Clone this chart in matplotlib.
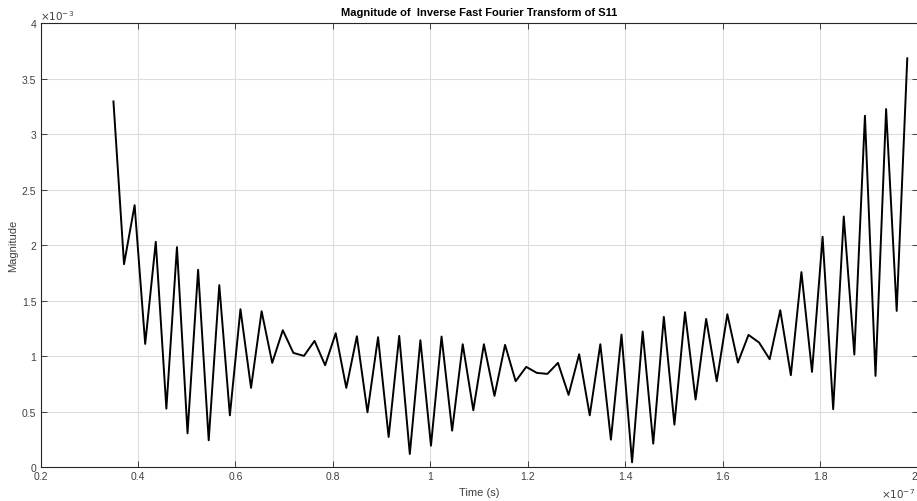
import matplotlib
matplotlib.use("Agg")
import matplotlib.pyplot as plt
import numpy as np

plt.rcParams['font.family'] = ['Liberation Sans', 'DejaVu Sans']

# Time in units of 1e-7 s (76 uniformly spaced samples)
t_start = 0.3497
t_end = 1.979
n_samples = 76
time = np.linspace(t_start, t_end, n_samples)

# Magnitude in units of 1e-3
magnitude = [
    3.294, 1.829, 2.360, 1.111, 2.030, 0.528, 1.982, 0.306, 1.778, 0.243,
    1.640, 0.468, 1.423, 0.715, 1.405, 0.940, 1.234, 1.030, 1.003, 1.138,
    0.919, 1.207, 0.715, 1.180, 0.495, 1.171, 0.273, 1.183, 0.120, 1.144,
    0.195, 1.177, 0.330, 1.108, 0.514, 1.108, 0.643, 1.102, 0.775, 0.904,
    0.850, 0.841, 0.940, 0.652, 1.018, 0.468, 1.108, 0.249, 1.195, 0.045,
    1.222, 0.213, 1.354, 0.384, 1.396, 0.610, 1.336, 0.775, 1.378, 0.943,
    1.192, 1.123, 0.973, 1.414, 0.829, 1.757, 0.859, 2.075, 0.523, 2.258,
    1.015, 3.165, 0.823, 3.225, 1.408, 3.682,
]

xticks = [0.2, 0.4, 0.6, 0.8, 1.0, 1.2, 1.4, 1.6, 1.8, 2.0]
xticklabels = ['0.2', '0.4', '0.6', '0.8', '1', '1.2', '1.4', '1.6', '1.8', '2']
yticks = [0, 0.5, 1, 1.5, 2, 2.5, 3, 3.5, 4]
yticklabels = ['0', '0.5', '1', '1.5', '2', '2.5', '3', '3.5', '4']

W, H = 917, 502
fig = plt.figure(figsize=(W / 100, H / 100), dpi=100)
ax = fig.add_axes([40.5 / W, (H - 468.3) / H, (917.5 - 40.5) / W, (468.3 - 24) / H])

ax.plot(time, magnitude, color='black', lw=1.4)

ax.set_xlim(0.2, 2.0)
ax.set_ylim(0, 4)
ax.set_xticks(xticks)
ax.set_xticklabels(xticklabels)
ax.set_yticks(yticks)
ax.set_yticklabels(yticklabels)
# keep the last x tick label inside the figure
ax.get_xticklabels()[-1].set_horizontalalignment('right')

tick_color = '#262626'
ax.tick_params(direction='in', length=4, width=0.6, colors=tick_color,
               labelsize=7.5, top=True, right=True, pad=3)
ax.tick_params(axis='x', labelcolor='#404040')
ax.tick_params(axis='y', labelcolor='#404040')
for s in ax.spines.values():
    s.set_color(tick_color)
    s.set_linewidth(0.8)

ax.grid(True, color='#dcdcdc', lw=0.8)
ax.set_axisbelow(True)

ax.set_title('Magnitude of  Inverse Fast Fourier Transform of S11',
             fontsize=8, fontweight='bold', color='black', pad=6)
ax.set_xlabel('Time (s)', fontsize=8, color='#404040', labelpad=4)
ax.set_ylabel('Magnitude', fontsize=8, color='#404040', labelpad=3)

ax.text(0.0, 1.003, r'$\times10^{-3}$', transform=ax.transAxes,
        fontsize=7.5, color='#404040', ha='left', va='bottom')
fig.text(915 / W, (H - 494) / H, r'$\times10^{-7}$', fontsize=7.5,
         color='#404040', ha='right', va='center')

fig.savefig('out.png', dpi=100)
